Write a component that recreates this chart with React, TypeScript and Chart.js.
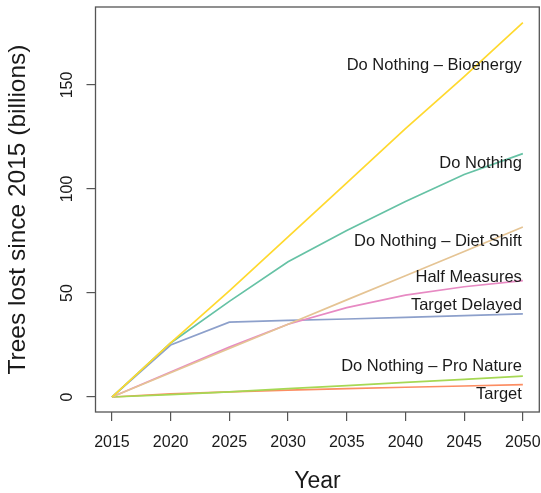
import React, { useEffect, useRef } from "react";
import { Chart, registerables } from "chart.js";

Chart.register(...registerables);

const years = [2015, 2020, 2025, 2030, 2035, 2040, 2045, 2050];
const doNothingBioenergy = [0, 26, 51, 77, 103, 129, 154, 180];
const doNothing = [0, 26, 46, 65, 80, 94, 107, 117];
const dietShift = [0, 11.7, 23.3, 35, 46.7, 58.3, 70, 81.7];
const halfMeasures = [0, 12, 24, 35, 43, 49, 53, 56];
const targetDelayed = [0, 25, 36, 36.8, 37.5, 38.3, 39.1, 40];
const proNature = [0, 1.2, 2.5, 4, 5.5, 7, 8.5, 10];
const target = [0, 1.5, 2.5, 3.3, 4, 4.7, 5.3, 6];

const seriesNames = [
  "Do Nothing – Bioenergy",
  "Do Nothing",
  "Do Nothing – Diet Shift",
  "Half Measures",
  "Target Delayed",
  "Do Nothing – Pro Nature",
  "Target",
];
const seriesValues = [doNothingBioenergy, doNothing, dietShift, halfMeasures, targetDelayed, proNature, target];
const seriesColors = ["#FFD92F", "#66C2A5", "#E5C494", "#E78AC3", "#8DA0CB", "#A6D854", "#FC8D62"];
// label anchor values (data units) at the 2050 end
const labelYValues = [159.6, 112.5, 74.7, 57.5, 44.2, 14.6, 1];
const labelYear = 2050;

const xTicks = years;
const yTicks = [0, 50, 100, 150];

const FONT = "'Liberation Sans', Arial, Helvetica, sans-serif";
const TEXT = "#1a1a1a";

const customPlugin = {
  id: "rstyle",
  afterDraw(chart: any) {
    const { ctx, chartArea, scales } = chart;
    const xs = scales.x;
    const ys = scales.y;
    ctx.save();
    // box
    ctx.strokeStyle = "#555";
    ctx.lineWidth = 1.3;
    ctx.strokeRect(chartArea.left, chartArea.top, chartArea.right - chartArea.left, chartArea.bottom - chartArea.top);
    // x tick labels
    ctx.fillStyle = TEXT;
    ctx.font = `16px ${FONT}`;
    ctx.textAlign = "center";
    ctx.textBaseline = "middle";
    xs.ticks.forEach((t: any) => {
      ctx.fillText(String(t.value), xs.getPixelForValue(t.value), 443);
    });
    // y tick labels rotated
    ys.ticks.forEach((t: any) => {
      const py = ys.getPixelForValue(t.value);
      ctx.save();
      ctx.translate(67.5, py);
      ctx.rotate(-Math.PI / 2);
      ctx.fillText(String(t.value), 0, 0);
      ctx.restore();
    });
    // series labels
    ctx.font = `16.5px ${FONT}`;
    ctx.textAlign = "right";
    const lx = xs.getPixelForValue(labelYear) - 1;
    seriesNames.forEach((n, i) => {
      ctx.fillText(n, lx, ys.getPixelForValue(labelYValues[i]));
    });
    ctx.restore();
  },
};

export default function App() {
  const ref = useRef<HTMLCanvasElement>(null);
  useEffect(() => {
    document.body.style.margin = "0";
    const canvas = ref.current!;
    const chart = new Chart(canvas, {
      type: "line",
      data: {
        datasets: seriesNames.map((name, i) => ({
          label: name,
          data: years.map((y, j) => ({ x: y, y: seriesValues[i][j] })),
          borderColor: seriesColors[i],
          backgroundColor: seriesColors[i],
          borderWidth: 1.7,
          pointRadius: 0,
          tension: 0,
          fill: false,
        })),
      },
      options: {
        animation: false,
        responsive: false,
        devicePixelRatio: 1,
        layout: { padding: { left: 0, right: 1.7, top: 7, bottom: 0 } },
        plugins: { legend: { display: false }, tooltip: { enabled: false } },
        scales: {
          x: {
            type: "linear",
            min: 2013.6,
            max: 2051.4,
            afterBuildTicks: (s: any) => {
              s.ticks = xTicks.map((v) => ({ value: v }));
            },
            afterFit: (s: any) => {
              s.height = 81;
            },
            ticks: { display: false },
            border: { display: false },
            grid: { drawOnChartArea: false, drawTicks: true, tickLength: 9, color: "#555", lineWidth: 1.2 },
            title: {
              display: true,
              text: "Year",
              color: TEXT,
              font: { family: FONT, size: 23, lineHeight: 1 },
              padding: { top: 0, bottom: 0 },
            },
          },
          y: {
            type: "linear",
            min: -7.2,
            max: 187.5,
            afterBuildTicks: (s: any) => {
              s.ticks = yTicks.map((v) => ({ value: v }));
            },
            afterFit: (s: any) => {
              s.width = 95.5;
            },
            ticks: { display: false },
            border: { display: false },
            grid: { drawOnChartArea: false, drawTicks: true, tickLength: 9, color: "#555", lineWidth: 1.2 },
            title: {
              display: true,
              text: "Trees lost since 2015 (billions)",
              color: TEXT,
              font: { family: FONT, size: 24.5, lineHeight: 1 },
              padding: { top: 5.5, bottom: 0 },
            },
          },
        },
      },
      plugins: [customPlugin],
    });
    return () => chart.destroy();
  }, []);
  return (
    <div style={{ position: "absolute", left: 0, top: 0, width: 541, height: 493 }}>
      <canvas ref={ref} width={541} height={493} style={{ width: 541, height: 493, display: "block" }} />
    </div>
  );
}
